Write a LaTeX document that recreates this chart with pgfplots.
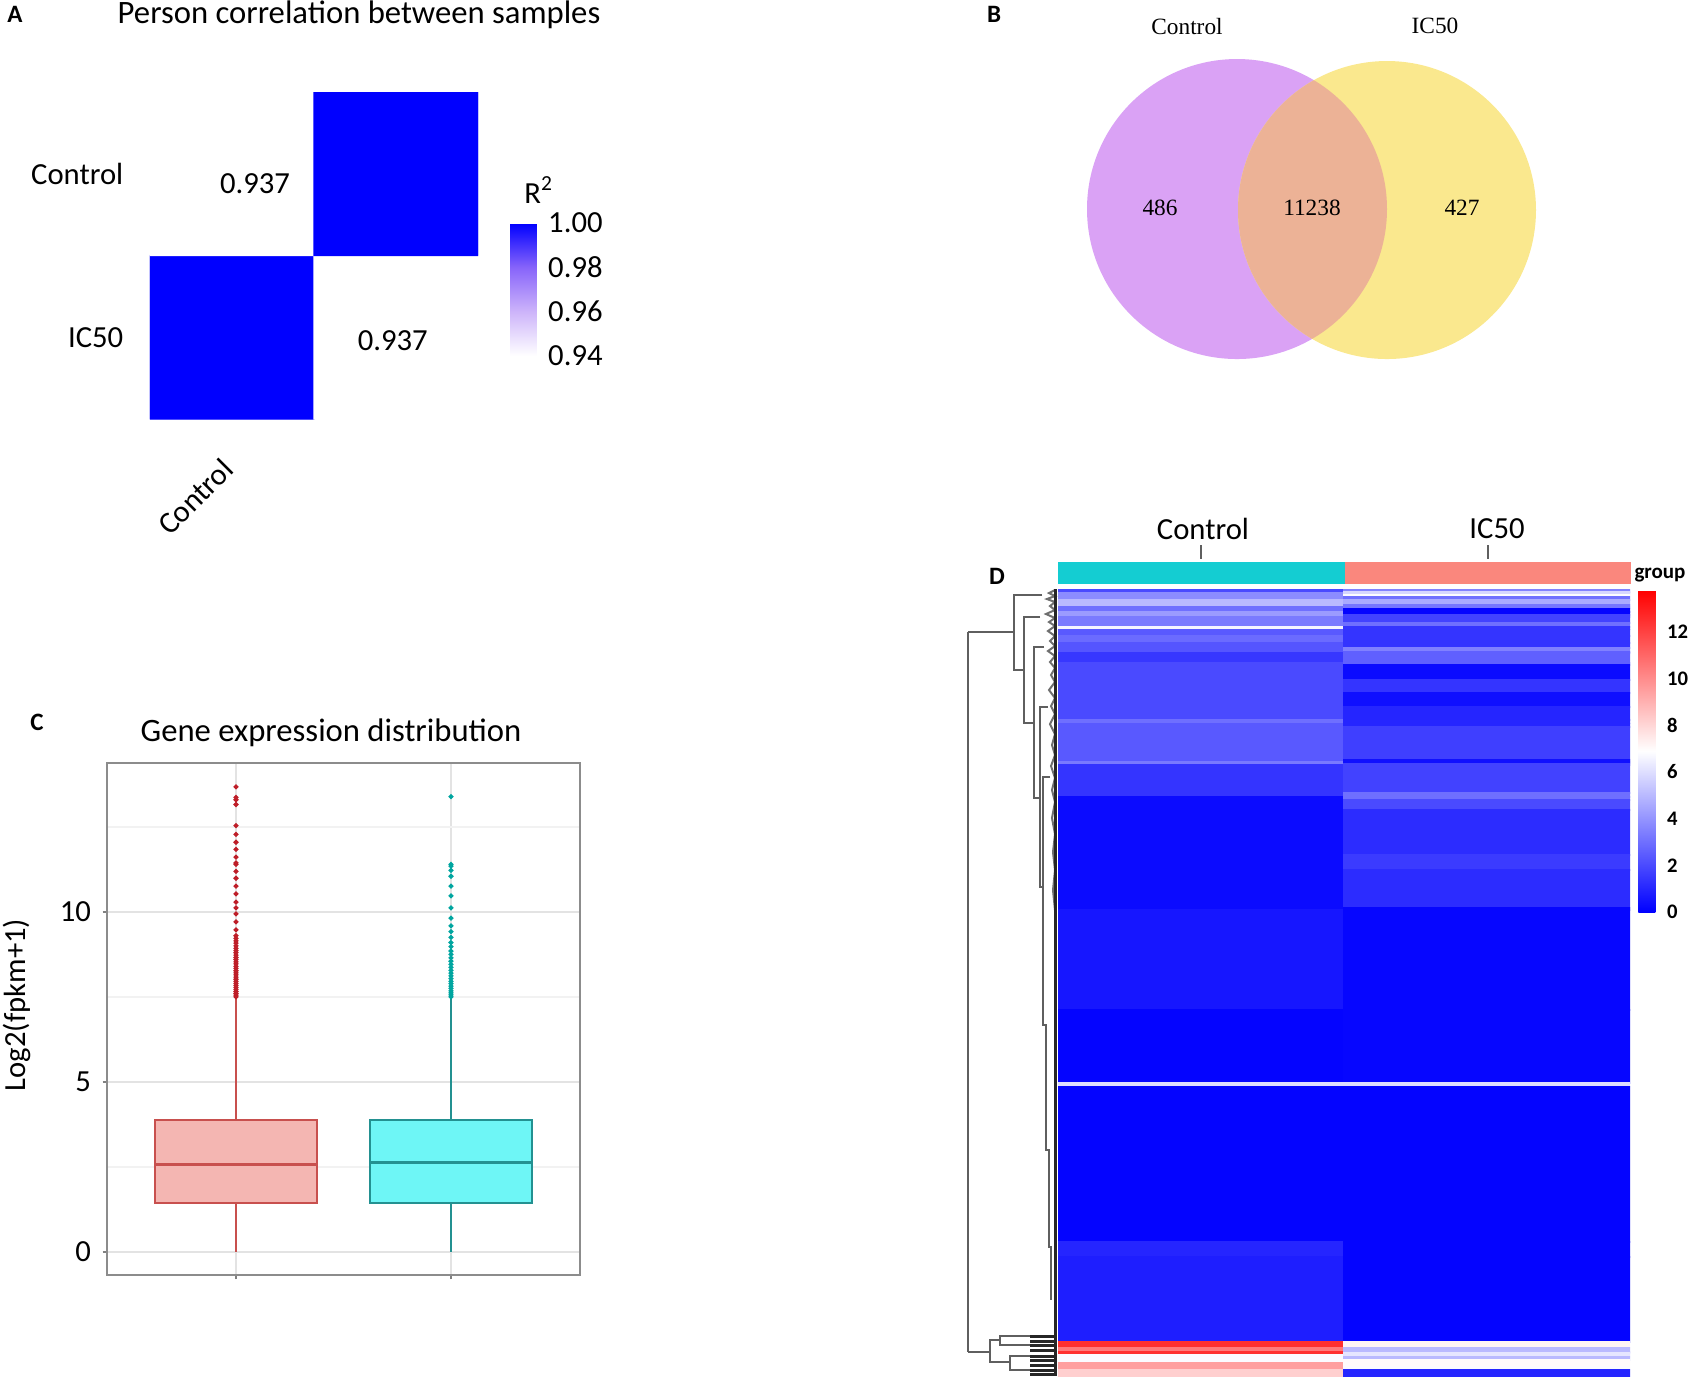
\documentclass[border=0pt]{standalone}
\usepackage{pgfplots}
\pgfplotsset{compat=1.18}
\usepgfplotslibrary{statistics}
\usepackage{fontspec}
\setmainfont{Carlito}
\newfontfamily\venn{Liberation Serif}
\definecolor{vpur}{RGB}{218,162,245}
\definecolor{vyel}{RGB}{250,232,142}
\definecolor{vovl}{RGB}{236,178,150}
\definecolor{bxred}{RGB}{200,80,78}
\definecolor{bxredfill}{RGB}{244,182,178}
\definecolor{bxteal}{RGB}{35,145,145}
\definecolor{bxtealfill}{RGB}{110,246,246}
\definecolor{dotred}{RGB}{190,30,40}
\definecolor{dotteal}{RGB}{0,165,160}
\definecolor{grpcyan}{RGB}{20,205,210}
\definecolor{grpsal}{RGB}{250,135,125}
\definecolor{dendro}{RGB}{95,95,95}
\pgfplotsset{every tick label/.append style={font=\fontsize{9.2}{11}\selectfont}}
\begin{document}
\begin{tikzpicture}[font=\fontsize{9.2}{11}\selectfont]
\useasboundingbox (0,0) rectangle (506.7pt,-415.8pt);

% ---------------- canvas (Venn, dendrogram, labels) ----------------
\begin{axis}[at={(0pt,-415.8pt)}, anchor=south west, scale only axis,
  width=506.7pt, height=415.8pt, xmin=0, xmax=1689, ymin=0, ymax=1386,
  y dir=reverse, hide axis, clip=false]
% Venn diagram
\fill[vpur] (axis cs:1237,209) circle[radius=45pt];
\fill[vyel] (axis cs:1387,210) circle[radius=44.7pt];
\begin{scope}
\clip (axis cs:1237,209) circle[radius=45pt];
\fill[vovl] (axis cs:1387,210) circle[radius=44.7pt];
\end{scope}
\node[font=\venn\fontsize{7}{8}\selectfont] at (axis cs:1187,26) {Control};
\node[font=\venn\fontsize{7}{8}\selectfont] at (axis cs:1435,26) {IC50};
\node[font=\venn\fontsize{7}{8}\selectfont] at (axis cs:1160,208) {486};
\node[font=\venn\fontsize{7}{8}\selectfont] at (axis cs:1312,208) {11238};
\node[font=\venn\fontsize{7}{8}\selectfont] at (axis cs:1462,208) {427};
% panel letters
\node[font=\bfseries\fontsize{7.5}{9}\selectfont] at (axis cs:15,14) {A};
\node[font=\bfseries\fontsize{7.5}{9}\selectfont] at (axis cs:994,14) {B};
\node[font=\bfseries\fontsize{7.5}{9}\selectfont] at (axis cs:37,722) {C};
\node[font=\bfseries\fontsize{7.5}{9}\selectfont] at (axis cs:997,576) {D};
% panel A texts
\node[font=\fontsize{9.8}{11}\selectfont] at (axis cs:359,15) {Person correlation between samples};
\node[rotate=45, anchor=east] at (axis cs:236,456) {Control};
\node at (axis cs:539,190) {R\textsuperscript{2}};
% panel C texts
\node[font=\fontsize{9.8}{11}\selectfont] at (axis cs:331,733) {Gene expression distribution};
\node[rotate=90] at (axis cs:17,1005) {Log2(fpkm+1)};
% panel D header
\fill[grpcyan] (axis cs:1058,562) rectangle (axis cs:1345,584);
\fill[grpsal] (axis cs:1345,562) rectangle (axis cs:1631,584);
\node at (axis cs:1203,529) {Control};
\node at (axis cs:1497,529) {IC50};
\draw[dendro, line width=0.4pt] (axis cs:1201,545) -- (axis cs:1201,559);
\draw[dendro, line width=0.4pt] (axis cs:1488,545) -- (axis cs:1488,559);
\node[font=\bfseries\fontsize{6.3}{7}\selectfont] at (axis cs:1660,575) {group};
% dendrogram
\addplot[dendro, line width=0.45pt, unbounded coords=jump] coordinates {
(968,632) (968,1352) (nan,nan)
(968,632) (1014,632) (nan,nan)
(1042,595) (1014,595) (1014,670) (1024,670) (nan,nan)
(1040,617) (1024,617) (1024,723) (1034,723) (nan,nan)
(1044,647) (1034,647) (1034,798) (1040,798) (nan,nan)
(1048,707) (1040,707) (1040,887) (1043,887) (nan,nan)
(1050,777) (1043,777) (1043,1025) (1046,1025) (1046,1150) (1049,1150) (1049,1247) (1051,1247) (1051,1300) (nan,nan)
(968,1352) (990,1352) (nan,nan)
(1000,1340) (990,1340) (990,1362) (1010,1362) (nan,nan)
(1030,1336) (1000,1336) (1000,1345) (1030,1345) (nan,nan)
(1030,1356) (1010,1356) (1010,1370) (1030,1370)
};
\addplot[dendro!90, line width=0.6pt] coordinates {
(1055,590) (1049,593) (1055,596) (1047,599) (1055,602) (1050,606) (1055,610)
(1046,614) (1055,618) (1049,622) (1055,626) (1048,631) (1055,636) (1050,641)
(1055,646) (1048,651) (1055,656) (1050,662) (1055,668) (1051,675) (1055,682)
(1049,690) (1055,698) (1051,706) (1055,714) (1050,724) (1055,734) (1052,745)
(1055,755) (1051,766) (1055,778) (1052,790) (1055,802) (1052,818) (1055,834)
(1053,852) (1055,870) (1053,890) (1055,910)
};
\addplot[black!85, line width=0.9pt, unbounded coords=jump] coordinates {
(1030,1336) (1057,1336) (nan,nan) (1030,1341) (1057,1341) (nan,nan)
(1030,1345) (1057,1345) (nan,nan) (1030,1350) (1057,1350) (nan,nan)
(1030,1356) (1057,1356) (nan,nan) (1030,1360) (1057,1360) (nan,nan)
(1030,1365) (1057,1365) (nan,nan) (1030,1370) (1057,1370) (nan,nan)
(1030,1374) (1057,1374)
};
\addplot[black!85, line width=1.1pt] coordinates {(1055.5,589) (1055.5,1376)};
\end{axis}

% ---------------- panel A: correlation heatmap ----------------
\begin{axis}[at={(45pt,-125.7pt)}, anchor=south west, scale only axis,
  width=98.4pt, height=98.1pt,
  xmin=0.5, xmax=2.5, ymin=0.5, ymax=2.5,
  axis line style={draw=none}, major tick length=0pt,
  xtick=\empty, ytick={1,2}, yticklabels={IC50,Control},
  yticklabel style={xshift=-4.5pt},
  colormap={corr}{rgb255=(255,255,255) rgb255=(205,180,250) rgb255=(135,100,250) rgb255=(0,0,255)},
  point meta min=0.94, point meta max=1,
  colorbar,
  colorbar style={scale only axis, at={(parent axis.north east)}, anchor=north west,
    xshift=1.2pt, yshift=-39.3pt, width=7.8pt, height=39.9pt,
    axis line style={draw=none}, major tick length=0pt,
    ytick={0.94,0.96,0.98,1},
    yticklabel style={/pgf/number format/fixed, /pgf/number format/fixed zerofill,
      /pgf/number format/precision=2, /pgf/number format/assume math mode=true}}]
\addplot[matrix plot*, point meta=explicit, mesh/cols=2] table[meta=c] {
x y c
1 1 1.0
2 1 0.937
1 2 0.937
2 2 1.0
};
\node at (axis cs:1.14,1.94) {0.937};
\node at (axis cs:1.98,0.98) {0.937};
\end{axis}

% ---------------- panel C: box plots ----------------
\begin{axis}[at={(32.1pt,-382.5pt)}, anchor=south west, scale only axis,
  width=141.9pt, height=153.6pt,
  xmin=0.4, xmax=2.6, ymin=-0.68, ymax=14.38,
  xtick={1,2}, xticklabels={,}, ytick={0,5,10}, minor ytick={2.5,7.5,12.5},
  grid=both, major grid style={gray!22, line width=0.5pt},
  minor grid style={gray!10, line width=0.4pt},
  axis line style={black!45, line width=0.5pt},
  tick align=outside, tick pos=left, major tick length=1.3pt, minor tick length=0pt,
  tick style={black!50, line width=0.4pt},
  yticklabel style={/pgf/number format/assume math mode=true}]
\addplot[draw=bxred, fill=bxredfill, line width=0.6pt,
  boxplot prepared={draw direction=y, draw position=1, lower whisker=0, lower quartile=1.44,
    median=2.56, upper quartile=3.88, upper whisker=7.47, box extend=0.75,
    whisker extend=0, every median/.style={line width=0.9pt}}] coordinates {};
\addplot[draw=bxteal, fill=bxtealfill, line width=0.6pt,
  boxplot prepared={draw direction=y, draw position=2, lower whisker=0, lower quartile=1.44,
    median=2.62, upper quartile=3.88, upper whisker=7.47, box extend=0.75,
    whisker extend=0, every median/.style={line width=0.9pt}}] coordinates {};
\addplot[only marks, mark=*, mark size=0.55pt, dotred] coordinates {
(1,13.68) (1,13.37) (1,13.30) (1,13.16) (1,12.54) (1,12.28) (1,12.05) (1,11.84)
(1,11.61) (1,11.44) (1,11.40) (1,11.19) (1,10.99) (1,10.76) (1,10.53) (1,10.29)
(1,10.12) (1,9.94) (1,9.71) (1,9.47) (1,9.30) (1,9.22) (1,9.15) (1,9.08) (1,9.00)
(1,8.93) (1,8.86) (1,8.80) (1,8.73) (1,8.66) (1,8.60) (1,8.53) (1,8.47) (1,8.40)
(1,8.34) (1,8.27) (1,8.21) (1,8.15) (1,8.08) (1,8.02) (1,7.96) (1,7.90) (1,7.84)
(1,7.78) (1,7.72) (1,7.66) (1,7.60) (1,7.55) (1,7.50)
};
\addplot[only marks, mark=*, mark size=0.55pt, dotteal] coordinates {
(2,13.39) (2,11.40) (2,11.35) (2,11.22) (2,11.05) (2,10.76) (2,10.47) (2,10.12)
(2,9.82) (2,9.59) (2,9.42) (2,9.25) (2,9.10) (2,8.98) (2,8.85) (2,8.75) (2,8.65)
(2,8.55) (2,8.46) (2,8.37) (2,8.28) (2,8.20) (2,8.12) (2,8.04) (2,7.96) (2,7.89)
(2,7.82) (2,7.75) (2,7.68) (2,7.62) (2,7.56) (2,7.50)
};
\end{axis}

% ---------------- panel D: expression heatmap ----------------
\begin{axis}[at={(317.4pt,-412.8pt)}, anchor=south west, scale only axis,
  width=171.6pt, height=236.1pt,
  xmin=0, xmax=2, ymin=589, ymax=1376, y dir=reverse, hide axis,
  colormap={bwr}{rgb255=(0,0,255) rgb255=(255,255,255) rgb255=(255,0,0)},
  point meta min=0, point meta max=13.8,
  colorbar,
  colorbar style={scale only axis, at={(parent axis.north east)}, anchor=north west,
    xshift=-6pt, yshift=-0.3pt, width=5.1pt, height=96.6pt,
    axis line style={draw=none}, major tick length=0pt,
    ytick={0,2,4,6,8,10,12},
    yticklabel style={font=\bfseries\fontsize{6.2}{7}\selectfont,
      /pgf/number format/assume math mode=true}}]
\addplot[surf, shader=flat corner, mesh/cols=3, point meta=explicit] table[meta=c] {
x y c
0 589 2.0
1 589 3.5
2 589 3.5
0 592 2.0
1 592 5.8
2 592 5.8
0 593 3.8
1 593 5.8
2 593 5.8
0 595 3.8
1 595 6.8
2 595 6.8
0 597 3.8
1 597 3.0
2 597 3.0
0 600 5.0
1 600 4.6
2 600 4.6
0 605 5.0
1 605 3.2
2 605 3.2
0 607 3.0
1 607 3.2
2 607 3.2
0 608.5 3.0
1 608.5 0.1
2 608.5 0.1
0 612 4.2
1 612 0.1
2 612 0.1
0 615 4.2
1 615 1.8
2 615 1.8
0 617 3.3
1 617 1.8
2 617 1.8
0 623 3.3
1 623 3.0
2 623 3.0
0 627 6.6
1 627 1.4
2 627 1.4
0 629.5 2.4
1 629.5 1.4
2 629.5 1.4
0 636 2.9
1 636 1.4
2 636 1.4
0 643 2.3
1 643 1.4
2 643 1.4
0 648 2.3
1 648 3.5
2 648 3.5
0 652 2.3
1 652 2.6
2 652 2.6
0 653 1.5
1 653 2.6
2 653 2.6
0 663 2.0
1 663 2.6
2 663 2.6
0 665 2.0
1 665 0.3
2 665 0.3
0 680 2.0
1 680 1.4
2 680 1.4
0 693 2.0
1 693 0.4
2 693 0.4
0 707 2.0
1 707 1.0
2 707 1.0
0 720 3.0
1 720 1.0
2 720 1.0
0 723.5 2.4
1 723.5 1.0
2 723.5 1.0
0 727 2.4
1 727 1.7
2 727 1.7
0 760 2.4
1 760 0.4
2 760 0.4
0 762 3.3
1 762 0.4
2 762 0.4
0 763.5 3.3
1 763.5 1.8
2 763.5 1.8
0 765 1.4
1 765 1.8
2 765 1.8
0 793 1.4
1 793 3.0
2 793 3.0
0 797 0.3
1 797 3.0
2 797 3.0
0 800 0.3
1 800 2.0
2 800 2.0
0 810 0.3
1 810 1.2
2 810 1.2
0 855 0.3
1 855 1.6
2 855 1.6
0 870 0.3
1 870 1.2
2 870 1.2
0 908 0.3
1 908 0.15
2 908 0.15
0 910 0.6
1 910 0.15
2 910 0.15
0 1010 0.1
1 1010 0.15
2 1010 0.15
0 1083 6.0
1 1083 6.0
2 1083 6.0
0 1087 0.1
1 1087 0.1
2 1087 0.1
0 1242 1.0
1 1242 0.1
2 1242 0.1
0 1257 0.8
1 1257 0.1
2 1257 0.1
0 1342 12.5
1 1342 7.2
2 1342 7.2
0 1348 10.5
1 1348 5.0
2 1348 5.0
0 1352 12.5
1 1352 5.0
2 1352 5.0
0 1353 12.5
1 1353 6.2
2 1353 6.2
0 1355 6.8
1 1355 6.2
2 1355 6.2
0 1357 6.8
1 1357 5.0
2 1357 5.0
0 1360 6.8
1 1360 7.0
2 1360 7.0
0 1363 9.5
1 1363 7.0
2 1363 7.0
0 1367 9.5
1 1367 6.8
2 1367 6.8
0 1370 8.2
1 1370 1.0
2 1370 1.0
0 1376 8.2
1 1376 1.0
2 1376 1.0
};
\end{axis}
\end{tikzpicture}
\end{document}
